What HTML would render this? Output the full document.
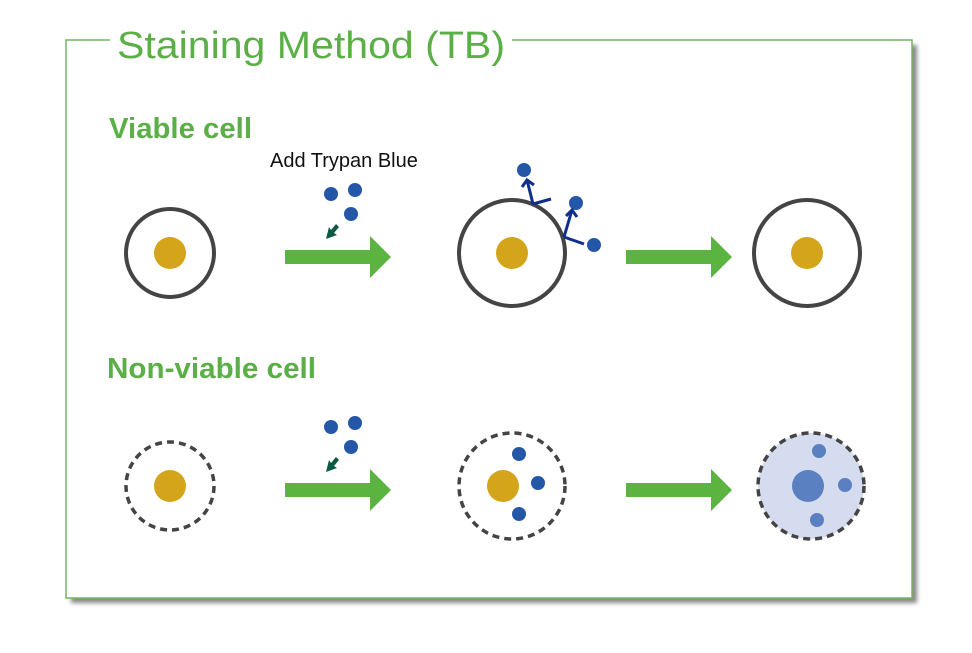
<!DOCTYPE html>
<html><head><meta charset="utf-8"><style>
html,body{margin:0;padding:0;background:#fff;}
svg{display:block;}
text{font-family:"Liberation Sans",sans-serif;}
</style></head><body>
<svg width="972" height="653" viewBox="0 0 972 653" xmlns="http://www.w3.org/2000/svg">
<defs>
<filter id="sh" x="-5%" y="-5%" width="110%" height="110%"><feGaussianBlur stdDeviation="2"/></filter>
</defs>
<rect x="71" y="45" width="846" height="558" fill="#888" filter="url(#sh)"/>
<rect x="66" y="40" width="846" height="558" fill="#fff" stroke="#72b75d" stroke-width="1.5"/>
<rect x="110" y="30" width="402" height="20" fill="#fff"/>
<text x="117" y="58" font-size="38" fill="#5aaf46" textLength="388" lengthAdjust="spacingAndGlyphs">Staining Method (TB)</text>
<text x="109" y="138" font-size="29" font-weight="bold" fill="#5aaf46" textLength="143" lengthAdjust="spacingAndGlyphs">Viable cell</text>
<text x="107" y="378" font-size="29" font-weight="bold" fill="#5aaf46" textLength="209" lengthAdjust="spacingAndGlyphs">Non-viable cell</text>
<text x="270" y="167" font-size="20" fill="#111">Add Trypan Blue</text>
<g fill="#5ab43f">
<path d="M285 250h85v-14l21 21-21 21v-14h-85z"/>
<path d="M626 250h85v-14l21 21-21 21v-14h-85z"/>
<path d="M285 483h85v-14l21 21-21 21v-14h-85z"/>
<path d="M626 483h85v-14l21 21-21 21v-14h-85z"/>
</g>
<g fill="#2457a8">
<circle cx="331" cy="194" r="7"/><circle cx="355" cy="190" r="7"/><circle cx="351" cy="214" r="7"/>
<circle cx="331" cy="427" r="7"/><circle cx="355" cy="423" r="7"/><circle cx="351" cy="447" r="7"/>
</g>
<g fill="#0a5a46">
<path d="M336 224l-5 6-2-3-3 12 11-4-3-2 5-6z"/>
<path d="M336 457l-5 6-2-3-3 12 11-4-3-2 5-6z"/>
</g>
<circle cx="170" cy="253" r="44" fill="none" stroke="#444" stroke-width="4"/>
<circle cx="170" cy="253" r="16" fill="#d4a51a"/>
<circle cx="512" cy="253" r="53" fill="none" stroke="#444" stroke-width="4"/>
<circle cx="512" cy="253" r="16" fill="#d4a51a"/>
<circle cx="807" cy="253" r="53" fill="none" stroke="#444" stroke-width="4"/>
<circle cx="807" cy="253" r="16" fill="#d4a51a"/>
<g fill="#2457a8"><circle cx="524" cy="170" r="7"/><circle cx="576" cy="203" r="7"/><circle cx="594" cy="245" r="7"/></g>
<g stroke="#0f2f8c" stroke-width="3" fill="none">
<path d="M533 204l-6-24M522 187l5-7 7 5M533 204l18-5"/>
<path d="M564 237l8-27M566 216l6-6 5 7M564 237l20 7"/>
</g>
<circle cx="170" cy="486" r="44" fill="none" stroke="#444" stroke-width="3.5" stroke-dasharray="7 5"/>
<circle cx="170" cy="486" r="16" fill="#d4a51a"/>
<circle cx="512" cy="486" r="53" fill="none" stroke="#444" stroke-width="3.5" stroke-dasharray="7 5"/>
<circle cx="503" cy="486" r="16" fill="#d4a51a"/>
<g fill="#2457a8"><circle cx="519" cy="454" r="7"/><circle cx="538" cy="483" r="7"/><circle cx="519" cy="514" r="7"/></g>
<circle cx="811" cy="486" r="53" fill="#d6dcef" stroke="#444" stroke-width="3.5" stroke-dasharray="7 5"/>
<g fill="#5a80c2"><circle cx="808" cy="486" r="16"/><circle cx="819" cy="451" r="7"/><circle cx="845" cy="485" r="7"/><circle cx="817" cy="520" r="7"/></g>
</svg>
</body></html>
